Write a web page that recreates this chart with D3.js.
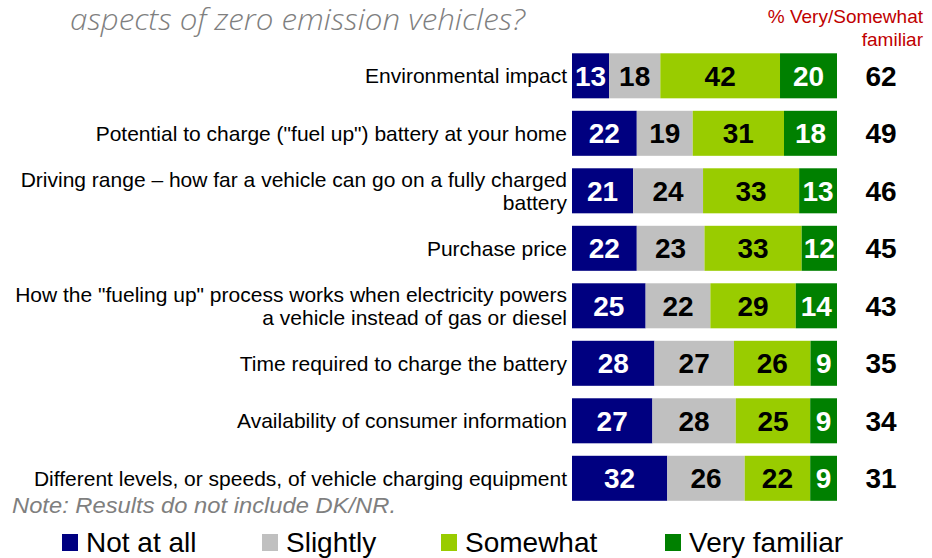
<!DOCTYPE html>
<html>
<head>
<meta charset="utf-8">
<script src="https://cdn.jsdelivr.net/npm/d3@7"></script>
<style>
  body { margin: 0; background: #fff; }
  svg { display: block; font-family: Arial, "Liberation Sans", sans-serif; }
</style>
</head>
<body>
<div id="chart"></div>
<script>
// data
const categories = [
    "Environmental impact",
    "Potential to charge (\"fuel up\") battery at your home",
    "Driving range \u2013 how far a vehicle can go on a fully charged\nbattery",
    "Purchase price",
    "How the \"fueling up\" process works when electricity powers\na vehicle instead of gas or diesel",
    "Time required to charge the battery",
    "Availability of consumer information",
    "Different levels, or speeds, of vehicle charging equipment"
];
const notAtAll = [13, 22, 21, 22, 25, 28, 27, 32];
const slightly = [18, 19, 24, 23, 22, 27, 28, 26];
const somewhat = [42, 31, 33, 33, 29, 26, 25, 22];
const veryFamiliar = [20, 18, 13, 12, 14, 9, 9, 9];
const familiarTotal = [62, 49, 46, 45, 43, 35, 34, 31];
const seriesNames = ["Not at all", "Slightly", "Somewhat", "Very familiar"];

const colors = ["#000080", "#c0c0c0", "#99cc00", "#008000"];
const textColors = ["#ffffff", "#000000", "#000000", "#ffffff"];

const width = 932, height = 558;

const svg = d3.select("#chart").append("svg")
    .attr("width", width)
    .attr("height", height);

// title (top cut off in the original)
svg.append("text")
    .attr("x", 70)
    .attr("y", 30)
    .attr("font-family", "'Century Gothic', 'Open Sans', 'DejaVu Sans', sans-serif")
    .attr("font-style", "italic")
    .attr("font-weight", 300)
    .attr("font-size", 29)
    .attr("fill", "#7f7f7f")
    .attr("textLength", 455)
    .attr("lengthAdjust", "spacingAndGlyphs")
    .text("aspects of zero emission vehicles?");

// header on the right
const header = svg.append("text")
    .attr("text-anchor", "end")
    .attr("font-size", 19)
    .attr("fill", "#c00000");
header.append("tspan").attr("x", 923).attr("y", 23).text("% Very/Somewhat");
header.append("tspan").attr("x", 923).attr("y", 46).text("familiar");

// scales
const x = d3.scaleLinear().domain([0, 1]).range([572, 837]);
const y = d3.scaleBand()
    .domain(categories)
    .range([47.05, 507.05])
    .paddingInner(0.217)
    .paddingOuter(0.1087);

const rows = categories.map((c, i) => {
    const vals = [notAtAll[i], slightly[i], somewhat[i], veryFamiliar[i]];
    const sum = d3.sum(vals);
    let acc = 0;
    const segs = vals.map((v, k) => {
        const s = { k, v, x0: acc / sum, x1: (acc + v) / sum };
        acc += v;
        return s;
    });
    return { category: c, segs, total: familiarTotal[i] };
});

const rowG = svg.selectAll(".row")
    .data(rows)
    .enter().append("g")
    .attr("class", "row")
    .attr("transform", d => `translate(0,${y(d.category)})`);

const bh = y.bandwidth();

// category labels
rowG.each(function (d) {
    const lines = d.category.split("\n");
    const t = d3.select(this).append("text")
        .attr("text-anchor", "end")
        .attr("font-size", 21)
        .attr("fill", "#000");
    const lh = 23;
    const first = bh / 2 + 7.5 - (lines.length - 1) * lh / 2;
    lines.forEach((ln, j) => {
        t.append("tspan").attr("x", 567).attr("y", first + j * lh).text(ln);
    });
});

// segments
const segG = rowG.selectAll(".seg")
    .data(d => d.segs)
    .enter().append("g")
    .attr("class", "seg");

segG.append("rect")
    .attr("x", s => x(s.x0))
    .attr("y", 0)
    .attr("width", s => x(s.x1) - x(s.x0))
    .attr("height", bh)
    .attr("fill", s => colors[s.k]);

segG.append("text")
    .attr("x", s => (x(s.x0) + x(s.x1)) / 2)
    .attr("y", bh / 2 + 10)
    .attr("text-anchor", "middle")
    .attr("font-size", 28)
    .attr("font-weight", "bold")
    .attr("fill", s => textColors[s.k])
    .text(s => s.v);

// totals
rowG.append("text")
    .attr("x", 881)
    .attr("y", bh / 2 + 10)
    .attr("text-anchor", "middle")
    .attr("font-size", 28)
    .attr("font-weight", "bold")
    .attr("fill", "#000")
    .text(d => d.total);

// note
svg.append("text")
    .attr("x", 12)
    .attr("y", 513)
    .attr("font-size", 22)
    .attr("font-style", "italic")
    .attr("fill", "#7f7f7f")
    .attr("textLength", 384)
    .attr("lengthAdjust", "spacingAndGlyphs")
    .text("Note: Results do not include DK/NR.");

// legend
const legendX = [62, 262, 441, 665];
const legend = svg.append("g").attr("class", "legend");
seriesNames.forEach((name, k) => {
    legend.append("rect")
        .attr("x", legendX[k])
        .attr("y", 534)
        .attr("width", 16)
        .attr("height", 17)
        .attr("fill", colors[k]);
    legend.append("text")
        .attr("x", legendX[k] + 24)
        .attr("y", 552)
        .attr("font-size", 28)
        .attr("fill", "#000")
        .text(name);
});
</script>
</body>
</html>
